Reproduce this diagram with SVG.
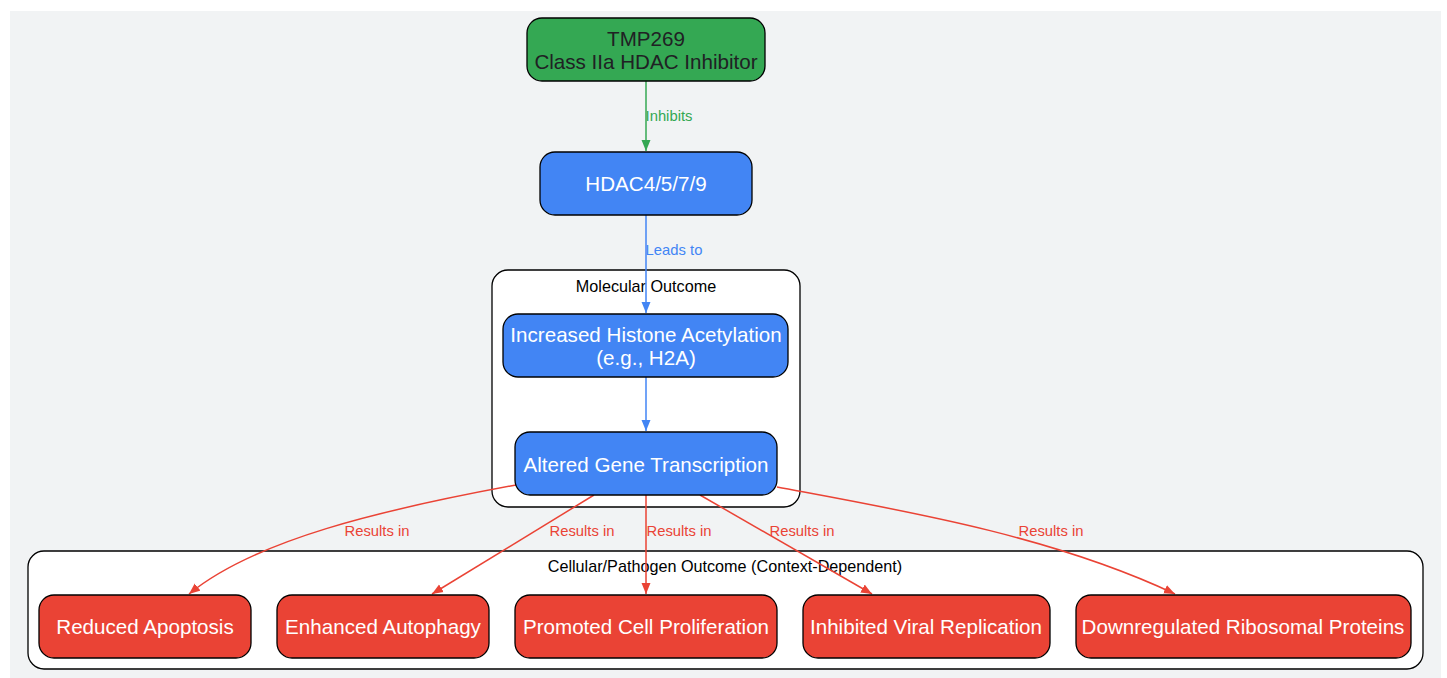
<svg xmlns="http://www.w3.org/2000/svg" width="1447" height="678" viewBox="0 0 1447 678">
<style>
.node rect{stroke:#000;stroke-width:1.3}
.nt{font-family:"Liberation Sans",Arial,sans-serif;font-size:20.6px;text-anchor:middle}
.cl{fill:#fff;stroke:#000;stroke-width:1.3}
.clt{font-family:"Liberation Sans",Arial,sans-serif;font-size:16.2px;text-anchor:middle;fill:#000}
.el{font-family:"Liberation Sans",Arial,sans-serif;font-size:14.8px;text-anchor:middle}
.e{fill:none;stroke-width:1.5}
</style>
<defs>
<marker id="ag" markerUnits="userSpaceOnUse" markerWidth="12" markerHeight="10" refX="11" refY="5" orient="auto"><path d="M0,0.5 L11,5 L0,9.5 z" fill="#34a853"/></marker>
<marker id="ab" markerUnits="userSpaceOnUse" markerWidth="12" markerHeight="10" refX="11" refY="5" orient="auto"><path d="M0,0.5 L11,5 L0,9.5 z" fill="#4285f4"/></marker>
<marker id="ar" markerUnits="userSpaceOnUse" markerWidth="12" markerHeight="10" refX="11" refY="5" orient="auto"><path d="M0,0.5 L11,5 L0,9.5 z" fill="#ea4335"/></marker>
</defs>
<rect x="10" y="11" width="1431" height="667" fill="#f1f3f4"/>
<g id="cluster_molecular">
<rect class="cl" x="492" y="270" width="308" height="237" rx="16"/>
<text class="clt" x="646" y="292">Molecular Outcome</text>
</g>
<g id="cluster_cellular">
<rect class="cl" x="28" y="551" width="1395" height="118" rx="16"/>
<text class="clt" x="725" y="572">Cellular/Pathogen Outcome (Context-Dependent)</text>
</g>
<g id="edges">
<path class="e" stroke="#34a853" d="M646,81 L646,151" marker-end="url(#ag)"/>
<text class="el" fill="#34a853" x="669" y="121">Inhibits</text>
<path class="e" stroke="#4285f4" d="M646,215 L646,313" marker-end="url(#ab)"/>
<text class="el" fill="#4285f4" x="674" y="255">Leads to</text>
<path class="e" stroke="#4285f4" d="M646,377 L646,431" marker-end="url(#ab)"/>
<path class="e" stroke="#ea4335" d="M516,485 C380,510 255,540 189,594" marker-end="url(#ar)"/>
<text class="el" fill="#ea4335" x="377" y="536">Results in</text>
<path class="e" stroke="#ea4335" d="M594,495 L432,594" marker-end="url(#ar)"/>
<text class="el" fill="#ea4335" x="582" y="536">Results in</text>
<path class="e" stroke="#ea4335" d="M646,495 L646,594" marker-end="url(#ar)"/>
<text class="el" fill="#ea4335" x="679" y="536">Results in</text>
<path class="e" stroke="#ea4335" d="M700,495 L872,594" marker-end="url(#ar)"/>
<text class="el" fill="#ea4335" x="802" y="536">Results in</text>
<path class="e" stroke="#ea4335" d="M777,487 C900,510 1050,535 1175,594" marker-end="url(#ar)"/>
<text class="el" fill="#ea4335" x="1051" y="536">Results in</text>
</g>
<g id="node_tmp269" class="node">
<rect x="527" y="18" width="238" height="63" rx="15" fill="#34a853"/>
<text class="nt" fill="#202124" x="646" y="46">TMP269</text>
<text class="nt" fill="#202124" x="646" y="69">Class IIa HDAC Inhibitor</text>
</g>
<g id="node_hdac" class="node">
<rect x="540" y="152" width="212" height="63" rx="15" fill="#4285f4"/>
<text class="nt" fill="#fff" x="646" y="191">HDAC4/5/7/9</text>
</g>
<g id="node_histone" class="node">
<rect x="503" y="314" width="285" height="63" rx="15" fill="#4285f4"/>
<text class="nt" fill="#fff" x="646" y="342">Increased Histone Acetylation</text>
<text class="nt" fill="#fff" x="646" y="365">(e.g., H2A)</text>
</g>
<g id="node_altered" class="node">
<rect x="515" y="432" width="262" height="63" rx="15" fill="#4285f4"/>
<text class="nt" fill="#fff" x="646" y="472">Altered Gene Transcription</text>
</g>
<g id="node_apoptosis" class="node">
<rect x="39" y="595" width="212" height="63" rx="15" fill="#ea4335"/>
<text class="nt" fill="#fff" x="145" y="634">Reduced Apoptosis</text>
</g>
<g id="node_autophagy" class="node">
<rect x="277" y="595" width="212" height="63" rx="15" fill="#ea4335"/>
<text class="nt" fill="#fff" x="383" y="634">Enhanced Autophagy</text>
</g>
<g id="node_prolif" class="node">
<rect x="515" y="595" width="262" height="63" rx="15" fill="#ea4335"/>
<text class="nt" fill="#fff" x="646" y="634">Promoted Cell Proliferation</text>
</g>
<g id="node_viral" class="node">
<rect x="803" y="595" width="247" height="63" rx="15" fill="#ea4335"/>
<text class="nt" fill="#fff" x="926" y="634">Inhibited Viral Replication</text>
</g>
<g id="node_ribo" class="node">
<rect x="1076" y="595" width="335" height="63" rx="15" fill="#ea4335"/>
<text class="nt" fill="#fff" x="1243" y="634">Downregulated Ribosomal Proteins</text>
</g>
</svg>
